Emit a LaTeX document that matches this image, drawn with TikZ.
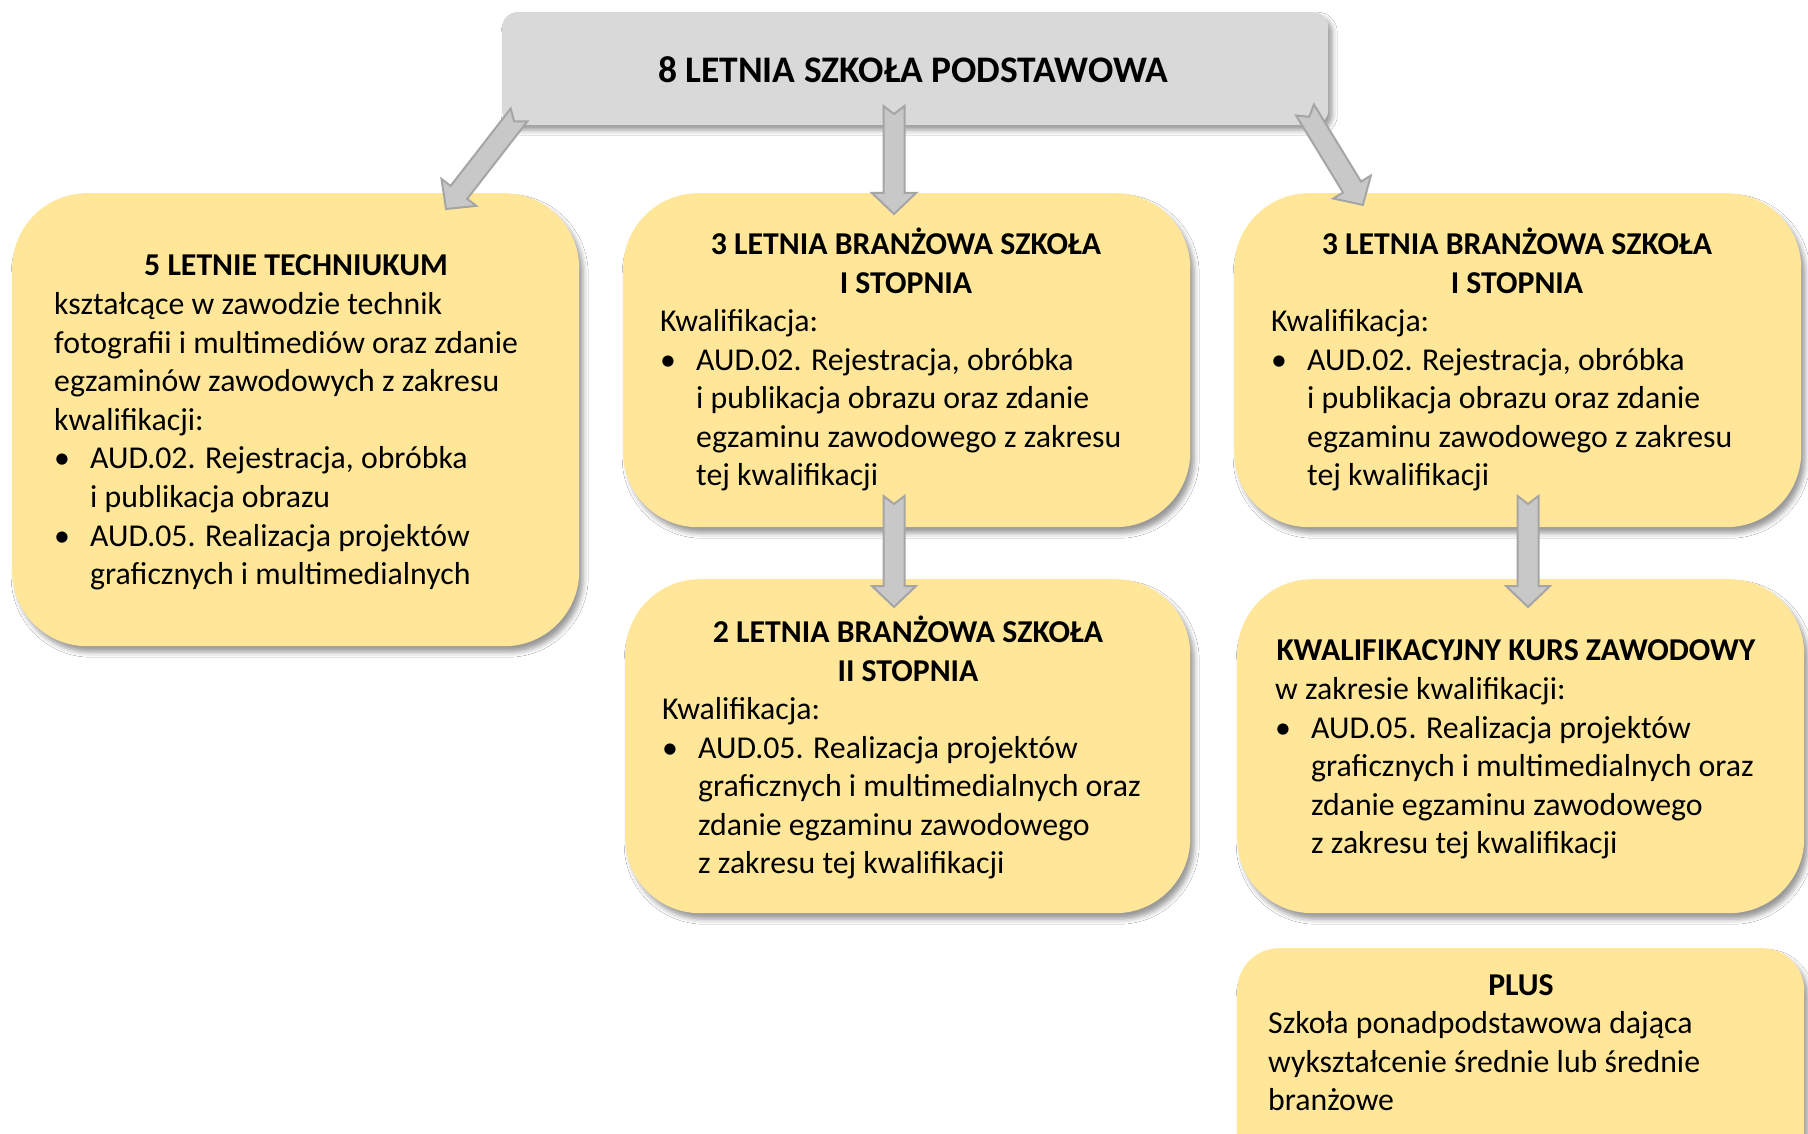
\documentclass[tikz,border=0pt]{standalone}
\usepackage{fontspec}
\setmainfont{Carlito}
\usetikzlibrary{calc,shadows.blur}
\definecolor{boxgray}{HTML}{D9D9D9}
\definecolor{boxyellow}{HTML}{FFE699}
\definecolor{arrowgray}{HTML}{C8C8C8}
\definecolor{arrowedge}{HTML}{A5A5A5}
\newcommand\mybul{\makebox[36pt][l]{•}}
\newcommand\myind{\hspace*{36pt}}
\newcommand\blockarrow[2]{%
  \path let \p1=(#1), \p2=(#2) in \pgfextra{%
    \pgfmathsetmacro\baang{atan2(\y2-\y1,\x2-\x1)}%
    \pgfmathsetmacro\balen{veclen(\x2-\x1,\y2-\y1)}%
    \xdef\baangG{\baang}\xdef\balenG{\balen}%
    \xdef\baxG{\x1}\xdef\bayG{\y1}};
  \draw[barrow,shift={(\baxG,\bayG)},rotate=\baangG]
    (0,10.5) -- (\balenG-21,10.5) -- (\balenG-21,22) -- (\balenG,0)
    -- (\balenG-21,-22) -- (\balenG-21,-10.5) -- (0,-10.5) -- (8,0) -- cycle;}
\begin{document}
\begin{tikzpicture}[x=1pt,y=-1pt,
  ybox/.style={fill=boxyellow, rounded corners=75pt, anchor=north west, inner sep=0pt,
    blur shadow={shadow xshift=4pt, shadow yshift=-6pt, shadow blur radius=5pt, shadow opacity=40}},
  gbox/.style={fill=boxgray, rounded corners=15pt, anchor=north west, inner sep=0pt,
    blur shadow={shadow xshift=4pt, shadow yshift=-5pt, shadow blur radius=5pt, shadow opacity=40}},
  txt/.style={inner sep=0pt, anchor=base west, align=left, font=\fontsize{31.8}{38.6}\selectfont},
  ttl/.style={inner sep=0pt, anchor=base, align=center, font=\fontsize{31.8}{38.6}\selectfont\bfseries},
  barrow/.style={fill=arrowgray, draw=arrowedge, line width=2pt, line join=miter}]
\useasboundingbox (0,0) rectangle (1808,1134);
\fill[white] (0,0) rectangle (1808,1134);

% boxes
\node[gbox, minimum width=826pt, minimum height=113pt] (top) at (502,12) {};
\node[ybox, minimum width=567pt, minimum height=453pt] (tech) at (12,193) {};
\node[ybox, minimum width=567pt, minimum height=334pt] (bs1a) at (623,193) {};
\node[ybox, minimum width=567pt, minimum height=334pt] (bs1b) at (1234,193) {};
\node[ybox, minimum width=565pt, minimum height=334pt] (bs2) at (625,579) {};
\node[ybox, minimum width=567pt, minimum height=334pt] (kkz) at (1237,579) {};
\node[ybox, rounded corners=42pt, minimum width=567pt, minimum height=230pt] (plus) at (1237,948) {};

% texts (anchors at the baseline of the LAST line)
\begin{scope}[yshift=-1.5pt]
\node[ttl, font=\fontsize{37.5}{45}\selectfont\bfseries] (ttop) at (913,81) {8 LETNIA SZKOŁA PODSTAWOWA};

\node[ttl] (ttech) at (296,274) {5 LETNIE TECHNIUKUM};
\node[txt] (btech) at (54,583.2) {kształcące w zawodzie technik\\
fotografii i multimediów oraz zdanie\\
egzaminów zawodowych z zakresu\\
kwalifikacji:\\
\mybul AUD.02. Rejestracja, obróbka\\
\myind i publikacja obrazu\\
\mybul AUD.05. Realizacja projektów\\
\myind graficznych i multimedialnych};

\node[ttl] (tbs1a) at (906,291.6) {3 LETNIA BRANŻOWA SZKOŁA\\I STOPNIA};
\node[txt] (bbs1a) at (660,484.4) {Kwalifikacja:\\
\mybul AUD.02. Rejestracja, obróbka\\
\myind i publikacja obrazu oraz zdanie\\
\myind egzaminu zawodowego z zakresu\\
\myind tej kwalifikacji};

\node[ttl] (tbs1b) at (1517,291.6) {3 LETNIA BRANŻOWA SZKOŁA\\I STOPNIA};
\node[txt] (bbs1b) at (1271,484.4) {Kwalifikacja:\\
\mybul AUD.02. Rejestracja, obróbka\\
\myind i publikacja obrazu oraz zdanie\\
\myind egzaminu zawodowego z zakresu\\
\myind tej kwalifikacji};

\node[ttl] (tbs2) at (908,679.6) {2 LETNIA BRANŻOWA SZKOŁA\\II STOPNIA};
\node[txt] (bbs2) at (662,872.4) {Kwalifikacja:\\
\mybul AUD.05. Realizacja projektów\\
\myind graficznych i multimedialnych oraz\\
\myind zdanie egzaminu zawodowego\\
\myind z zakresu tej kwalifikacji};

\node[ttl] (tkkz) at (1516,659) {KWALIFIKACYJNY KURS ZAWODOWY};
\node[txt] (bkkz) at (1275,852.4) {w zakresie kwalifikacji:\\
\mybul AUD.05. Realizacja projektów\\
\myind graficznych i multimedialnych oraz\\
\myind zdanie egzaminu zawodowego\\
\myind z zakresu tej kwalifikacji};

\node[ttl] (tplus) at (1521,994) {PLUS};
\node[txt] (bplus) at (1268,1109.2) {Szkoła ponadpodstawowa dająca\\
wykształcenie średnie lub średnie\\
branżowe};
\end{scope}

% arrows
\coordinate (a1s) at (519,115); \coordinate (a1e) at (446,209);
\coordinate (a2s) at (894,106); \coordinate (a2e) at (894,214);
\coordinate (a3s) at (1305,110); \coordinate (a3e) at (1363,205);
\coordinate (a4s) at (894,496); \coordinate (a4e) at (894,607);
\coordinate (a5s) at (1528,496); \coordinate (a5e) at (1528,607);
\blockarrow{a1s}{a1e}
\blockarrow{a2s}{a2e}
\blockarrow{a3s}{a3e}
\blockarrow{a4s}{a4e}
\blockarrow{a5s}{a5e}
\end{tikzpicture}
\end{document}
